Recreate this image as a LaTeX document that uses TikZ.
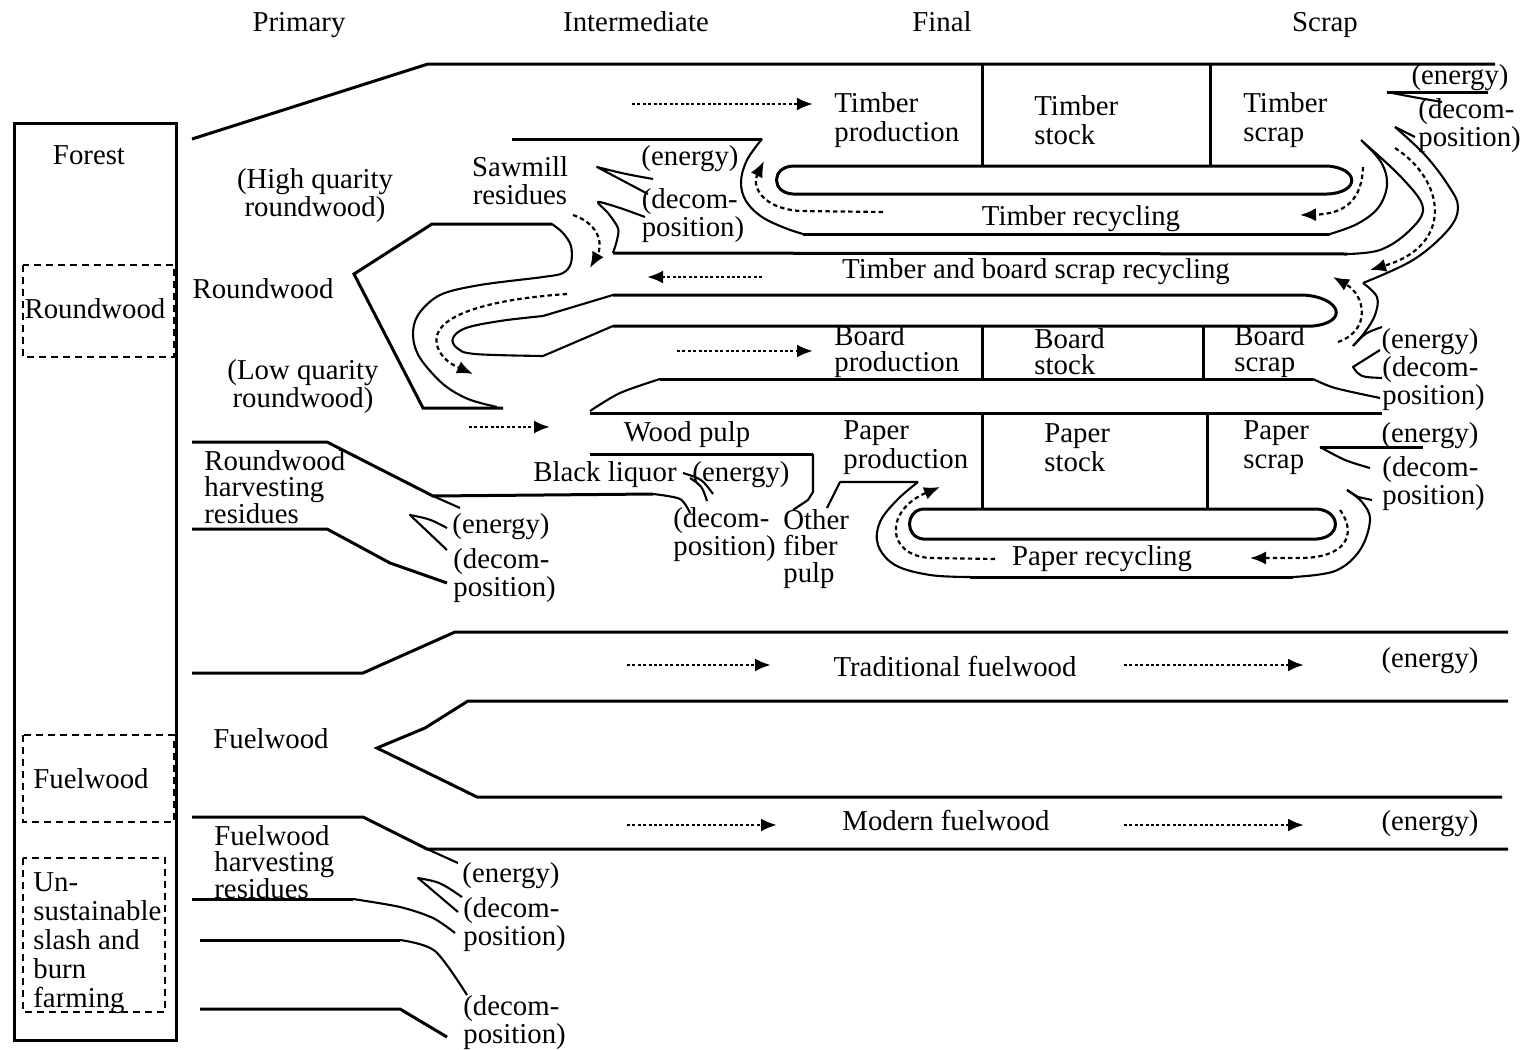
\documentclass[tikz,border=0pt]{standalone}
\usepackage{fontspec}
\setmainfont{Liberation Serif}
\usetikzlibrary{arrows.meta}
\begin{document}
\begin{tikzpicture}[x=0.5pt,y=-0.5pt,
  txt/.style={inner sep=0pt, font=\fontsize{14.4}{14.5}\selectfont, align=left},
  one/.style={inner sep=0pt, font=\fontsize{14.4}{14.5}\selectfont, text height=12.8pt, text depth=3.2pt},
  txtc/.style={inner sep=0pt, font=\fontsize{14.4}{14}\selectfont, align=center},
  tight/.style={inner sep=0pt, font=\fontsize{14.4}{10.5}\selectfont, align=left},
  brd/.style={inner sep=0pt, font=\fontsize{14.4}{13}\selectfont, align=left},
  mid/.style={inner sep=0pt, font=\fontsize{14.4}{13.3}\selectfont, align=left},
  band/.style={line width=1.5pt},
  crv/.style={line width=1.05pt, line join=round},
  flow/.style={line width=1.4pt, dash pattern=on 1.5pt off 1.2pt, -{Latex[length=8pt,width=6.5pt]}},
  cflow/.style={line width=1.1pt, dash pattern=on 2.2pt off 1.6pt, -{Latex[length=8pt,width=6.5pt]}},
  dbox/.style={line width=1.2pt, dash pattern=on 3.5pt off 2.5pt},
]
\useasboundingbox (0,0) rectangle (1522,1050);

% headers
\node[one] (hP) at (299,22) {Primary};
\node[one] (hI) at (636,22) {Intermediate};
\node[one] (hF) at (942,22) {Final};
\node[one] (hS) at (1325,22) {Scrap};

% forest column
\draw[band] (14,123) rectangle (176,1040);
\node[one] (forest) at (89,155) {Forest};
\draw[dbox] (23,265) rectangle (174,357);
\node[one] (frw) at (95,309) {Roundwood};
\draw[dbox] (23,735) rectangle (174,822);
\node[one] (ffw) at (91,779) {Fuelwood};
\draw[dbox] (23,858) rectangle (165,1012);
\node[txt, anchor=west] (fun) at (33,943) {Un-\\sustainable\\slash and\\burn\\farming};

% ---------- timber ----------
\draw[band] (192,139) -- (428,64) -- (1495,64);
\draw[band] (982,64) -- (982,166);
\draw[band] (1210,64) -- (1210,166);
\draw[band] (793,166) -- (1327,166) .. controls (1360,168) and (1360,193) .. (1327,194) -- (793,194) .. controls (771,193) and (771,167) .. (793,166) -- cycle;
% sawmill top + timber recycling outer loop (curve A)
\draw[band] (512,139) -- (762,139);
\draw[crv] plot[smooth,tension=0.6] coordinates {(762,139) (747,160) (741,182) (746,201) (762,217) (785,228) (803,234)};
\draw[band] (803,234) -- (1330,234);
\draw[crv] plot[smooth,tension=0.6] coordinates {(1330,234) (1357,224) (1378,208) (1387,185) (1381,162) (1361,140)};
% timber scrap energy/decomposition
\draw[band] (1387,92) -- (1488,92);
\draw[crv] plot[smooth] coordinates {(1387,92) (1413,97) (1442,102)};
% sawmill energy/decomposition
\draw[crv] (653,179) .. controls (625,174) .. (597,167) -- (648,194);
\draw[crv] plot[smooth,tension=0.5] coordinates {(645,217) (620,208) (598,202) (608,213) (618,228) (617,240) (613,253)};
% timber and board scrap recycling top line + curve B
\draw[band] (613,253) -- (1347,254);
\draw[crv] plot[smooth,tension=0.6] coordinates {(1347,254) (1380,250) (1408,232) (1423,208) (1402,178) (1363,142)};
% curve C
\draw[crv] (1415,137) -- (1395,127);
\draw[crv] plot[smooth,tension=0.6] coordinates {(1395,127) (1425,155) (1448,185) (1458,207) (1448,230) (1413,260) (1363,283)};
\draw[crv] plot[smooth,tension=0.6] coordinates {(1363,283) (1377,297) (1375,315) (1365,332) (1353,346)};
\draw[crv] (1353,346) .. controls (1365,333) .. (1382,327);
% board scrap decomposition
\draw[crv] (1380,350) -- (1353,367) .. controls (1360,377) .. (1382,378);

% ---------- roundwood ----------
\draw[band] (552,224) -- (432,224) -- (354,274) -- (423,408) -- (503,408);
\draw[crv] plot[smooth,tension=0.55] coordinates {(552,224) (563,233) (571,246) (571,263) (563,273) (543,277) (480,285) (440,295) (418,315) (413,336) (420,358) (443,384) (468,399) (497,407)};

% ---------- board ----------
\draw[band] (613,295) -- (1303,295) .. controls (1340,297) and (1350,322) .. (1313,326) -- (613,326);
\draw[crv] (613,295) -- (543,316);
\draw[crv] (613,326) -- (543,356);
\draw[crv] plot[smooth,tension=0.6] coordinates {(543,316) (500,321) (466,328) (453,338) (457,348) (475,354) (543,356)};
\draw[band] (982,326) -- (982,378);
\draw[band] (1203,326) -- (1203,378);
\draw[crv] plot[smooth] coordinates {(590,411) (620,393) (660,379)};
\draw[band] (660,379) -- (1313,379);
\draw[crv] plot[smooth] coordinates {(1313,379) (1335,388) (1380,398)};

% ---------- pulp & paper ----------
\draw[band] (590,413) -- (1382,413);
\draw[band] (982,413) -- (982,508);
\draw[band] (1207,413) -- (1207,508);
\draw[band] (923,509) -- (1317,509) .. controls (1341,511) and (1342,537) .. (1317,539) -- (923,539) .. controls (905,537) and (905,511) .. (923,509) -- cycle;
% black liquor
\draw[band] (590,454) -- (813,454);
\draw[crv] (813,454) -- (813,492) -- (808,500) -- (793,510);
\draw[crv] (683,473) .. controls (702,479) .. (713,494);
\draw[crv] (690,478) .. controls (702,486) .. (707,501);
% other fiber pulp + paper recycling outer loop
\draw[crv] (827,508) -- (840,482) -- (918,482);
\draw[crv] plot[smooth,tension=0.6] coordinates {(918,482) (897,500) (880,522) (878,545) (895,565) (930,575) (970,577)};
\draw[band] (970,577) -- (1293,577);
\draw[crv] plot[smooth,tension=0.6] coordinates {(1293,577) (1335,571) (1360,550) (1370,520) (1362,502) (1347,490)};
\draw[crv] (1347,490) -- (1358,497) -- (1372,500);
% paper scrap energy/decomposition
\draw[band] (1320,447) -- (1423,447);
\draw[crv] plot[smooth] coordinates {(1320,447) (1345,460) (1370,468)};

% ---------- harvesting residues ----------
\draw[band] (192,442) -- (327,442) -- (433,496) -- (653,494);
\draw[crv] plot[smooth] coordinates {(653,494) (680,499) (690,513)};
\draw[crv] (433,496) -- (460,508);
\draw[crv] (447,528) .. controls (430,519) .. (410,515) -- (447,550);
\draw[band] (192,529) -- (327,529) -- (390,563) -- (447,583);

% ---------- fuelwood ----------
\draw[band] (192,673) -- (363,673) -- (455,632) -- (1508,632);
\draw[band] (1508,701) -- (468,701) -- (425,728) -- (377,748) -- (477,797) -- (1502,797);
\draw[band] (192,817) -- (363,817) -- (427,849) -- (1508,849);
\draw[crv] (427,849) -- (458,863);
\draw[crv] (462,897) .. controls (440,882) .. (418,878) -- (458,912);
\draw[band] (192,899) -- (353,899);
\draw[crv] plot[smooth] coordinates {(353,899) (400,907) (433,918) (455,933)};
\draw[band] (200,940) -- (400,940);
\draw[crv] plot[smooth] coordinates {(400,940) (435,951) (467,995)};
\draw[band] (200,1009) -- (400,1009) -- (447,1037);

% ---------- flow arrows ----------
\draw[flow] (632,104) -- (813,104);
\draw[cflow] (883,212) -- (800,211) .. controls (760,208) and (752,185) .. (764,161);
\draw[cflow] (1363,167) .. controls (1362,200) and (1345,214) .. (1300,215);
\draw[cflow] (1395,148) .. controls (1445,180) and (1455,245) .. (1370,270);
\draw[cflow] (1338,342) .. controls (1372,330) and (1365,295) .. (1333,277);
\draw[flow] (762,277) -- (647,277);
\draw[cflow] (573,215) .. controls (602,225) and (602,247) .. (590,268);
\draw[cflow] (567,294) .. controls (480,300) and (430,318) .. (437,345) .. controls (441,360) and (455,366) .. (473,374);
\draw[flow] (469,427) -- (550,427);
\draw[flow] (677,351) -- (813,351);
\draw[cflow] (995,559) -- (930,558) .. controls (885,555) and (885,510) .. (940,487);
\draw[cflow] (1340,510) .. controls (1358,535) and (1345,558) .. (1300,558) -- (1250,558);
\draw[flow] (627,665) -- (771,665);
\draw[flow] (1124,665) -- (1304,665);
\draw[flow] (627,825) -- (777,825);
\draw[flow] (1124,825) -- (1304,825);

% ---------- labels ----------
\node[one] (en1) at (690,156) {(energy)};
\node[tight] (de1) at (693,216) {(decom-\\position)};
\node[txtc] (saw) at (520,181) {Sawmill\\residues};
\node[txtc] (hq) at (315,196) {(High quarity\\roundwood)};
\node[one] (rw) at (263,289) {Roundwood};
\node[txtc] (lq) at (303,387) {(Low quarity\\roundwood)};
\node[txt, anchor=west] (tp) at (834,120) {Timber\\production};
\node[txt, anchor=west] (ts) at (1034,120) {Timber\\stock};
\node[txt, anchor=west] (tsc) at (1243,120) {Timber\\scrap};
\node[one] (en2) at (1460,75) {(energy)};
\node[tight, anchor=west] (de2) at (1418,126) {(decom-\\position)};
\node[one] (trec) at (1081,216) {Timber recycling};
\node[one] (tbrec) at (1036,269) {Timber and board scrap recycling};
\node[brd, anchor=west] (bp) at (834,352) {Board\\production};
\node[brd, anchor=west] (bs) at (1034,352) {Board\\stock};
\node[brd, anchor=west] (bsc) at (1234,352) {Board\\scrap};
\node[one] (en3) at (1430,339) {(energy)};
\node[tight, anchor=west] (de3) at (1382,384) {(decom-\\position)};
\node[one] (wp) at (687,432) {Wood pulp};
\node[txt, anchor=west] (pp) at (843,448) {Paper\\production};
\node[txt, anchor=west] (ps) at (1044,448) {Paper\\stock};
\node[txt, anchor=west] (psc) at (1243,448) {Paper\\scrap};
\node[one] (en4) at (1430,433) {(energy)};
\node[tight, anchor=west] (de4) at (1382,484) {(decom-\\position)};
\node[one] (bl) at (605,472) {Black liquor};
\node[one] (en5) at (741,472) {(energy)};
\node[tight, anchor=west] (de5) at (673,535) {(decom-\\position)};
\node[mid, anchor=west] (ofp) at (783,549) {Other\\fiber\\pulp};
\node[mid, anchor=west] (rhr) at (204,487) {Roundwood\\harvesting\\residues};
\node[one] (en6) at (501,524) {(energy)};
\node[tight, anchor=west] (de6) at (453,576) {(decom-\\position)};
\node[one] (prec) at (1102,556) {Paper recycling};
\node[one] (tf) at (955,667) {Traditional fuelwood};
\node[one] (en7) at (1430,658) {(energy)};
\node[one] (fw) at (271,739) {Fuelwood};
\node[one] (mf) at (946,821) {Modern fuelwood};
\node[one] (en8) at (1430,821) {(energy)};
\node[mid, anchor=west] (fhr) at (214,862) {Fuelwood\\harvesting\\residues};
\node[one] (en9) at (511,873) {(energy)};
\node[tight, anchor=west] (de7) at (463,925) {(decom-\\position)};
\node[tight, anchor=west] (de8) at (463,1023) {(decom-\\position)};
\end{tikzpicture}
\end{document}
